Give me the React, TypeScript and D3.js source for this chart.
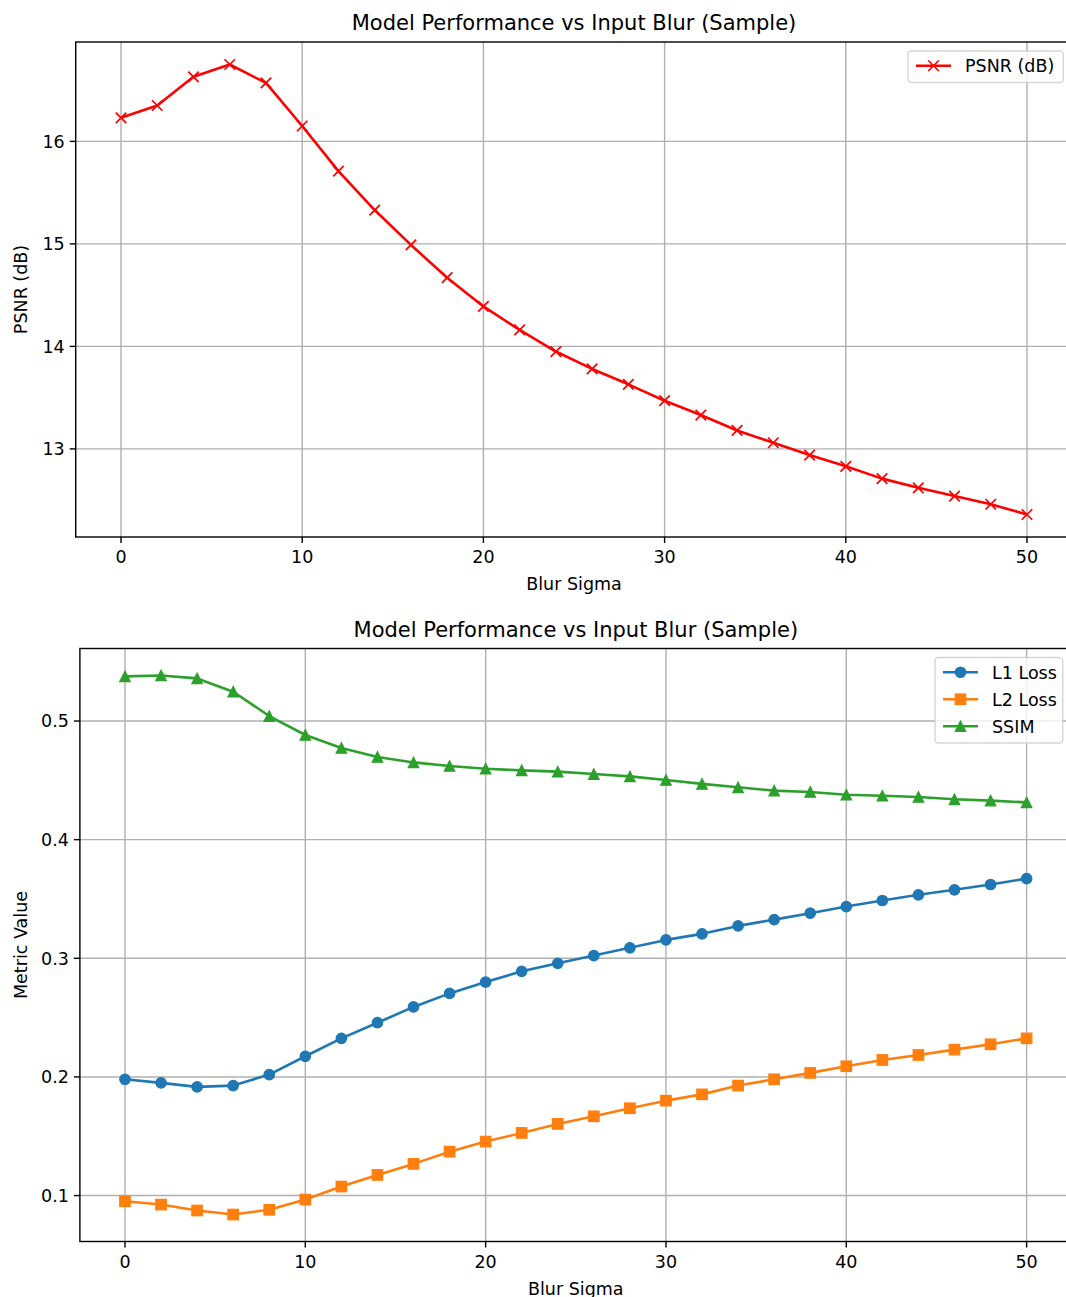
import React from "react";
import * as d3 from "d3";

const sigma = [0, 2, 4, 6, 8, 10, 12, 14, 16, 18, 20, 22, 24, 26, 28, 30, 32, 34, 36, 38, 40, 42, 44, 46, 48, 50];
const psnr = [16.23, 16.35, 16.63, 16.75, 16.57, 16.15, 15.71, 15.33, 14.99, 14.67, 14.39, 14.16, 13.95, 13.78, 13.63, 13.47, 13.33, 13.18, 13.06, 12.94, 12.83, 12.71, 12.62, 12.54, 12.46, 12.36];
const l1 = [0.198, 0.195, 0.1916, 0.1927, 0.202, 0.2174, 0.2325, 0.2457, 0.259, 0.2704, 0.28, 0.289, 0.2958, 0.3023, 0.3088, 0.3155, 0.3206, 0.3273, 0.3326, 0.338, 0.3436, 0.3487, 0.3535, 0.3577, 0.3622, 0.3672];
const l2 = [0.0952, 0.0924, 0.0874, 0.084, 0.088, 0.0966, 0.1076, 0.1174, 0.1267, 0.137, 0.1455, 0.1528, 0.1604, 0.1668, 0.1736, 0.18, 0.1853, 0.1927, 0.198, 0.2034, 0.209, 0.2143, 0.2185, 0.223, 0.2275, 0.2325];
const ssim = [0.5376, 0.5384, 0.5359, 0.5247, 0.5042, 0.4882, 0.4773, 0.4697, 0.4651, 0.4621, 0.4598, 0.4584, 0.4573, 0.4553, 0.4533, 0.4503, 0.447, 0.4441, 0.4413, 0.4402, 0.4379, 0.437, 0.436, 0.434, 0.4329, 0.4314];

const xTicks = [0, 10, 20, 30, 40, 50];
const topYTicks = [13, 14, 15, 16];
const botYTicks = [0.1, 0.2, 0.3, 0.4, 0.5];

const title = "Model Performance vs Input Blur (Sample)";
const xLabel = "Blur Sigma";

const FONT = "DejaVu Sans, sans-serif";
const FS = 17.5;
const TFS = 21;
const GRID = "#b0b0b0";
const W = 1066;
const H = 1297;

type Series = { name: string; values: number[]; color: string; marker: "x" | "o" | "s" | "^" };

function pad(ext: [number, number]): [number, number] {
  const m = (ext[1] - ext[0]) * 0.05;
  return [ext[0] - m, ext[1] + m];
}

function Marker({ type, x, y, color }: { type: string; x: number; y: number; color: string }) {
  const r = 5.25;
  if (type === "x") {
    return (
      <path
        d={`M${x - r},${y - r}L${x + r},${y + r}M${x - r},${y + r}L${x + r},${y - r}`}
        stroke={color}
        strokeWidth={1.75}
        fill="none"
      />
    );
  }
  if (type === "o") return <circle cx={x} cy={y} r={r} fill={color} stroke={color} strokeWidth={1.2} />;
  if (type === "s")
    return <rect x={x - r} y={y - r} width={2 * r} height={2 * r} fill={color} stroke={color} strokeWidth={1.2} />;
  return (
    <path
      d={`M${x},${y - r}L${x - r},${y + r}L${x + r},${y + r}Z`}
      fill={color}
      stroke={color}
      strokeWidth={1.2}
    />
  );
}

function Panel({
  left, right, top, bottom, yTicks, yFmt, yLabel, series, legendLeft,
}: {
  left: number; right: number; top: number; bottom: number; yTicks: number[];
  yFmt: (v: number) => string; yLabel: string; series: Series[]; legendLeft: number;
}) {
  const x = d3.scaleLinear().domain(pad([sigma[0], sigma[sigma.length - 1]])).range([left, right]);
  const all = series.flatMap((s) => s.values);
  const y = d3.scaleLinear().domain(pad(d3.extent(all) as [number, number])).range([bottom, top]);
  const line = d3.line<number>().x((_, i) => x(sigma[i])).y((v) => y(v));
  const cy = (top + bottom) / 2;
  const cx = (left + right) / 2;
  const lgTop = top + 9;
  const rowH = 27;
  const lgH = 14 + FS + (series.length - 1) * rowH;
  const lgRight = right - 9;
  return (
    <g>
      {xTicks.map((t) => (
        <line key={"gx" + t} x1={x(t)} x2={x(t)} y1={top} y2={bottom} stroke={GRID} strokeWidth={1.4} />
      ))}
      {yTicks.map((t) => (
        <line key={"gy" + t} x1={left} x2={right} y1={y(t)} y2={y(t)} stroke={GRID} strokeWidth={1.4} />
      ))}
      {series.map((s) => (
        <g key={s.name}>
          <path d={line(s.values) || ""} fill="none" stroke={s.color} strokeWidth={2.6} strokeLinejoin="round" />
          {s.values.map((v, i) => (
            <Marker key={i} type={s.marker} x={x(sigma[i])} y={y(v)} color={s.color} />
          ))}
        </g>
      ))}
      <rect x={left} y={top} width={right - left} height={bottom - top} fill="none" stroke="#000" strokeWidth={1.4} />
      {xTicks.map((t) => (
        <g key={"tx" + t}>
          <line x1={x(t)} x2={x(t)} y1={bottom} y2={bottom + 6} stroke="#000" strokeWidth={1.4} />
          <text x={x(t)} y={bottom + 26} textAnchor="middle" fontSize={FS} fontFamily={FONT} fill="#000">
            {t}
          </text>
        </g>
      ))}
      {yTicks.map((t) => (
        <g key={"ty" + t}>
          <line x1={left - 6} x2={left} y1={y(t)} y2={y(t)} stroke="#000" strokeWidth={1.4} />
          <text x={left - 11} y={y(t) + 6.3} textAnchor="end" fontSize={FS} fontFamily={FONT} fill="#000">
            {yFmt(t)}
          </text>
        </g>
      ))}
      <text x={cx} y={bottom + 53} textAnchor="middle" fontSize={FS} fontFamily={FONT} fill="#000">
        {xLabel}
      </text>
      <text
        transform={`translate(27,${cy}) rotate(-90)`}
        textAnchor="middle"
        fontSize={FS}
        fontFamily={FONT}
        fill="#000"
      >
        {yLabel}
      </text>
      <text x={cx} y={top - 12} textAnchor="middle" fontSize={TFS} fontFamily={FONT} fill="#000">
        {title}
      </text>
      <rect
        x={legendLeft}
        y={lgTop}
        width={lgRight - legendLeft}
        height={lgH}
        rx={3.5}
        fill="#fff"
        fillOpacity={0.8}
        stroke="#ccc"
        strokeOpacity={0.8}
        strokeWidth={1.4}
      />
      {series.map((s, i) => {
        const ly = lgTop + 7 + FS / 2 - 1 + i * rowH;
        const hx = legendLeft + 8;
        return (
          <g key={"lg" + s.name}>
            <line x1={hx} x2={hx + 35} y1={ly} y2={ly} stroke={s.color} strokeWidth={2.6} />
            <Marker type={s.marker} x={hx + 17.5} y={ly} color={s.color} />
            <text x={hx + 35 + 14} y={ly + 6.3} fontSize={FS} fontFamily={FONT} fill="#000">
              {s.name}
            </text>
          </g>
        );
      })}
    </g>
  );
}

export default function App() {
  return (
    <svg width={W} height={H} style={{ position: "absolute", left: 0, top: 0 }} xmlns="http://www.w3.org/2000/svg">
      <rect x={0} y={0} width={W} height={H} fill="#fff" />
      <Panel
        left={75.7}
        right={1072.3}
        top={42}
        bottom={537}
        yTicks={topYTicks}
        yFmt={(v) => String(v)}
        yLabel="PSNR (dB)"
        series={[{ name: "PSNR (dB)", values: psnr, color: "#ff0000", marker: "x" }]}
        legendLeft={908}
      />
      <Panel
        left={79.9}
        right={1071.7}
        top={648.5}
        bottom={1241.5}
        yTicks={botYTicks}
        yFmt={(v) => v.toFixed(1)}
        yLabel="Metric Value"
        series={[
          { name: "L1 Loss", values: l1, color: "#1f77b4", marker: "o" },
          { name: "L2 Loss", values: l2, color: "#ff7f0e", marker: "s" },
          { name: "SSIM", values: ssim, color: "#2ca02c", marker: "^" },
        ]}
        legendLeft={935}
      />
    </svg>
  );
}
